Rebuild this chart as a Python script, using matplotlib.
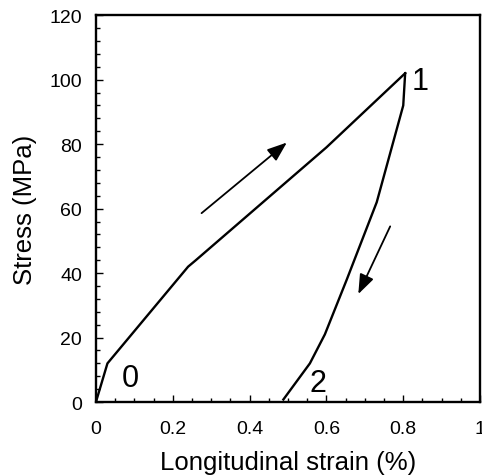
import matplotlib
matplotlib.use('Agg')
import matplotlib.pyplot as plt
from matplotlib.ticker import MultipleLocator

plt.rcParams['font.family'] = ['Liberation Sans', 'DejaVu Sans']

# loading branch (0 -> 1)
load_strain = [0.0, 0.03, 0.24, 0.26, 0.60, 0.805]
load_stress = [0.0, 12.0, 42.0, 44.0, 79.0, 102.0]
# unloading branch (1 -> 2)
unload_strain = [0.805, 0.80, 0.731, 0.653, 0.596, 0.557, 0.488]
unload_stress = [102.0, 92.0, 62.0, 38.0, 21.0, 12.0, 0.8]

# arrows: (tail, tip) in data units
load_arrow = ((0.275, 58.6), (0.497, 80.5))
unload_arrow = ((0.766, 54.5), (0.683, 33.5))

# point labels
point_names = ['0', '1', '2']
point_x = [0.089, 0.845, 0.578]
point_y = [7.5, 99.5, 6.0]

fig = plt.figure(figsize=(4.82, 4.77), dpi=100)
ax = fig.add_axes([0.199, 0.155, 0.797, 0.811])

ax.plot(load_strain, load_stress, color='black', lw=1.7)
ax.plot(unload_strain, unload_stress, color='black', lw=1.7)

for tail, tip in (load_arrow, unload_arrow):
    ax.annotate('', xy=tip, xytext=tail,
                arrowprops=dict(arrowstyle='-|>,head_length=1.2,head_width=0.45',
                                color='black', lw=1.3, shrinkA=0, shrinkB=0))

for name, x, y in zip(point_names, point_x, point_y):
    ax.text(x, y, name, fontsize=22, ha='center', va='center')

ax.set_xlim(0, 1)
ax.set_ylim(0, 120)
ax.xaxis.set_minor_locator(MultipleLocator(0.05))
ax.yaxis.set_major_locator(MultipleLocator(20))
ax.yaxis.set_minor_locator(MultipleLocator(4))
ax.set_xticks([0, 0.2, 0.4, 0.6, 0.8, 1.0])
ax.set_xticklabels(['0', '0.2', '0.4', '0.6', '0.8', '1'])
ax.tick_params(which='both', direction='in', labelsize=14, width=1.0)
ax.tick_params(which='major', length=5)
ax.tick_params(which='minor', length=3)
ax.tick_params(axis='x', which='major', pad=13)
ax.tick_params(axis='y', which='major', pad=10)
for s in ax.spines.values():
    s.set_linewidth(1.7)

ax.set_xlabel('Longitudinal strain (%)', fontsize=18.5, labelpad=9)
ax.set_ylabel('Stress (MPa)', fontsize=18.5, labelpad=9)

fig.savefig('out.png', dpi=100)
